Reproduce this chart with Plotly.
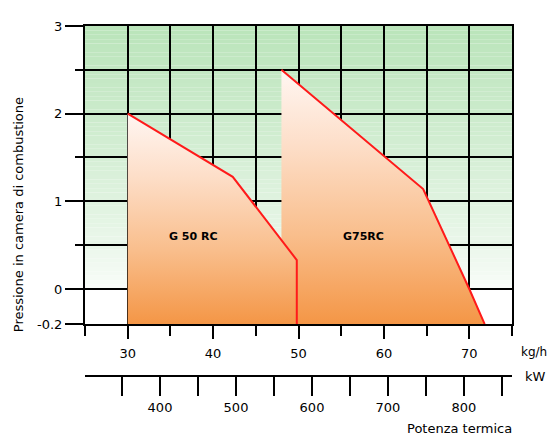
import plotly.graph_objects as go

# ---- data ----
g50_kgh = [30, 30, 42.3, 49.8, 49.8]
g50_mbar = [-0.2, 2.0, 1.28, 0.33, -0.2]
g75_kgh = [48, 48, 64.6, 70.0, 71.8]
g75_mbar = [-0.2, 2.5, 1.14, 0.0, -0.2]

x_major = [30, 40, 50, 60, 70]
x_minor = [25, 35, 45, 55, 65, 75]
y_major = [-0.2, 0, 1, 2, 3]
y_major_text = ["-0.2", "0", "1", "2", "3"]
y_minor = [0.5, 1.5, 2.5]
kw_ticks = [300, 350, 400, 450, 500, 550, 600, 650, 700, 750, 800, 850]
kw_text = ["", "", "400", "", "500", "", "600", "", "700", "", "800", ""]
kw_range = [301.3, 863.2]

FONT = "DejaVu Sans"


def disp(v):
    # the axis below 0 is stretched: -0.2 bar sits where -0.4 would be
    return v if v >= 0 else 2 * v


def dlist(vals):
    return [disp(v) for v in vals]


orange_scale = [[0.0, "rgb(244,150,70)"], [0.35, "rgb(249,190,140)"],
                [0.7, "rgb(253,222,200)"], [1.0, "rgb(255,246,242)"]]

fig = go.Figure()

# background green gradient (bands below the grid)
n_bands = 60
top = (186, 228, 186)
bot = (250, 253, 250)
for i in range(n_bands):
    y0 = 3 * i / n_bands
    y1 = 3 * (i + 1) / n_bands
    t = ((i + 0.5) / n_bands) ** 0.8
    c = tuple(round(bot[k] + (top[k] - bot[k]) * t) for k in range(3))
    fig.add_shape(type="rect", xref="x", yref="y", x0=25, x1=75, y0=y0, y1=y1,
                  line=dict(width=0), fillcolor="rgb(%d,%d,%d)" % c, layer="below")

for xs, ys in [(g75_kgh, g75_mbar), (g50_kgh, g50_mbar)]:
    fig.add_trace(go.Scatter(
        x=xs, y=dlist(ys), mode="none", fill="toself",
        fillgradient=dict(type="vertical", colorscale=orange_scale),
        showlegend=False, hoverinfo="skip"))

for xs, ys in [(g75_kgh, g75_mbar), (g50_kgh, g50_mbar)]:
    fig.add_trace(go.Scatter(
        x=xs[1:], y=dlist(ys[1:]), mode="lines",
        line=dict(color="#ff1a1a", width=2),
        showlegend=False, hoverinfo="skip"))

# dummy trace to host the kW axis
fig.add_trace(go.Scatter(x=[kw_ticks[0], kw_ticks[-1]], y=[None, None],
                         xaxis="x2", yaxis="y", mode="markers",
                         showlegend=False, hoverinfo="skip"))

fig.add_annotation(x=37.7, y=0.6, text="<b>G 50 RC</b>", showarrow=False,
                   font=dict(family=FONT, size=11, color="black"))
fig.add_annotation(x=57.6, y=0.6, text="<b>G75RC</b>", showarrow=False,
                   font=dict(family=FONT, size=11, color="black"))

H = 357.0
W = 427.0


def px(xp):
    return (xp - 85) / W


def py(yp):
    return (376 - yp) / H


def label(xs, ys, text, angle=0, size=13):
    fig.add_annotation(xref="paper", yref="paper", x=px(xs), y=py(ys), text=text,
                       xanchor="center", yanchor="middle", textangle=angle,
                       showarrow=False, font=dict(family=FONT, size=size, color="black"))


label(534, 352, "kg/h", size=12)
label(535, 377, "kW")
label(459, 430, "Potenza termica")
label(18, 212, "Pressione in camera di combustione", -90)

# the page body has an 8px margin: the figure is placed 8px right and down
fig.update_layout(
    width=548, height=431,
    margin=dict(l=77, r=44, t=11, b=63),
    paper_bgcolor="white", plot_bgcolor="white",
    font=dict(family=FONT, size=13, color="black"),
    xaxis=dict(
        range=[25, 75], tickmode="array", tickvals=x_major,
        ticktext=[str(v) for v in x_major],
        ticks="outside", ticklen=13, tickwidth=2, tickcolor="black",
        ticklabelstandoff=3,
        showline=True, linecolor="black", linewidth=2, mirror=True,
        showgrid=True, gridcolor="black", gridwidth=2, zeroline=False,
        minor=dict(tickmode="array", tickvals=x_minor, ticks="outside", ticklen=10,
                   tickwidth=2, tickcolor="black", showgrid=True,
                   gridcolor="black", gridwidth=2),
        anchor="y", fixedrange=True,
    ),
    xaxis2=dict(
        range=kw_range, overlaying="x", anchor="free", position=0, side="bottom",
        tickmode="array", tickvals=kw_ticks, ticktext=kw_text,
        ticks="outside", ticklen=19, tickwidth=2, tickcolor="black",
        showline=True, linecolor="black", linewidth=2,
        showgrid=False, zeroline=False, fixedrange=True,
    ),
    yaxis=dict(
        range=[-0.4, 3], domain=[53 / H, 1], tickmode="array",
        tickvals=dlist(y_major), ticktext=y_major_text,
        ticks="outside", ticklen=18, tickwidth=2, tickcolor="black",
        showline=True, linecolor="black", linewidth=2, mirror=True,
        showgrid=True, gridcolor="black", gridwidth=2, zeroline=False,
        minor=dict(tickmode="array", tickvals=y_minor, ticks="outside", ticklen=8,
                   tickwidth=2, tickcolor="black", showgrid=True,
                   gridcolor="black", gridwidth=2),
        anchor="x", fixedrange=True,
    ),
)

fig.write_html("out.html")
